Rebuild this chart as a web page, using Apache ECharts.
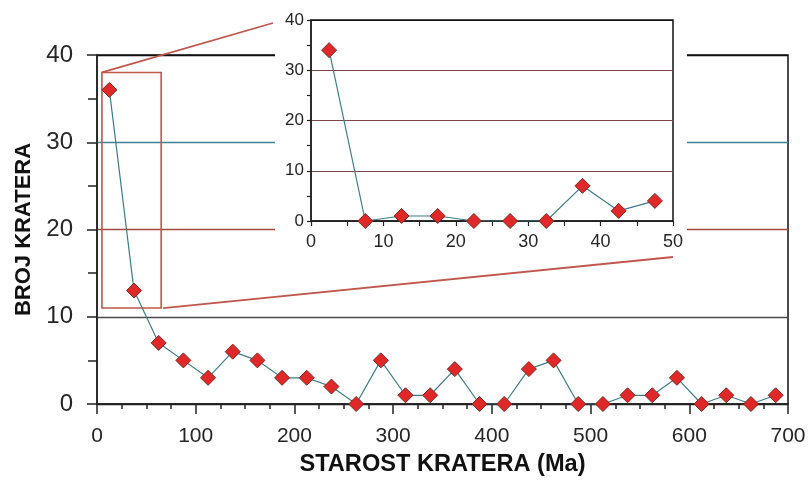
<!DOCTYPE html>
<html><head><meta charset="utf-8">
<script src="https://cdn.jsdelivr.net/npm/echarts@6/dist/echarts.min.js"></script>
<style>html,body{margin:0;padding:0;background:#fff}#c{width:811px;height:481px}</style>
</head><body><div id="c"></div>
<script>
// ---- data ----
const ages = [12.5,37.5,62.5,87.5,112.5,137.5,162.5,187.5,212.5,237.5,262.5,287.5,312.5,337.5,362.5,387.5,412.5,437.5,462.5,487.5,512.5,537.5,562.5,587.5,612.5,637.5,662.5,687.5];
const counts = [36,13,7,5,3,6,5,3,3,2,0,5,1,1,4,0,0,4,5,0,0,1,1,3,0,1,0,1];
const insetAges = [2.5,7.5,12.5,17.5,22.5,27.5,32.5,37.5,42.5,47.5];
const insetCounts = [34,0,1,1,0,0,0,7,2,4];
const zoomX = [5, 65];
const zoomY = [11, 38];
const xTitle = 'STAROST KRATERA (Ma)';
const yTitle = 'BROJ KRATERA';

// ---- layout / style ----
const FONT = 'Liberation Sans, Arial, Helvetica, sans-serif';
const INK = '#262626';
const RED = '#c0564c';
const inset = {left: 311, top: 20, right: 138, bottom: 260};
const markerStyle = {color: '#e02828', borderColor: '#7a2a22', borderWidth: 1};
const lineCol = '#3f7c88';

const chart = echarts.init(document.getElementById('c'), null, {renderer: 'canvas'});
const option = {
  animation: false,
  backgroundColor: '#fff',
  textStyle: {fontFamily: FONT},
  grid: [
    {left: 97, right: 23, top: 55, bottom: 77, show: true, borderColor: '#111', borderWidth: 1.5, backgroundColor: 'transparent', z: 0},
    {left: inset.left, right: inset.right, top: inset.top, bottom: inset.bottom, show: true, borderColor: '#111', borderWidth: 1.5, backgroundColor: '#fff', z: 3}
  ],
  xAxis: [
    {type: 'value', gridIndex: 0, min: 0, max: 700, interval: 100,
     name: xTitle, nameLocation: 'middle', nameGap: 48,
     nameTextStyle: {fontSize: 23.6, fontWeight: 'bold', color: '#111', fontFamily: FONT},
     axisLine: {lineStyle: {color: '#222', width: 1.5}},
     axisTick: {show: true, length: 10, lineStyle: {color: '#222', width: 1.5}},
     minorTick: {show: true, splitNumber: 4, length: 5, lineStyle: {color: '#222', width: 1.5}},
     axisLabel: {fontSize: 21, color: INK, margin: 22},
     splitLine: {show: false}},
    {type: 'value', gridIndex: 1, min: 0, max: 50, interval: 10, z: 3,
     axisLine: {lineStyle: {color: '#222', width: 1.5}},
     axisTick: {show: true, length: 5, lineStyle: {color: '#222', width: 1.2}},
     minorTick: {show: true, splitNumber: 2, length: 5, lineStyle: {color: '#222', width: 1.2}},
     axisLabel: {fontSize: 18, color: INK, margin: 12},
     splitLine: {show: false}}
  ],
  yAxis: [
    {type: 'value', gridIndex: 0, min: 0, max: 40, interval: 10,
     name: yTitle, nameLocation: 'middle', nameGap: 62, nameRotate: 90,
     nameTextStyle: {fontSize: 22, fontWeight: 'bold', color: '#111', fontFamily: FONT},
     axisLine: {show: true, lineStyle: {color: '#222', width: 1.5}},
     axisTick: {show: true, length: 10, lineStyle: {color: '#222', width: 1.5}},
     minorTick: {show: true, splitNumber: 2, length: 9, lineStyle: {color: '#222', width: 1.5}},
     axisLabel: {fontSize: 24, color: INK, margin: 24},
     splitLine: {show: true, lineStyle: {color: ['#222', '#4a4a4a', '#a8483c', '#3e8494', '#111'], width: 1.3}}},
    {type: 'value', gridIndex: 1, min: 0, max: 40, interval: 10, z: 3,
     axisLine: {show: true, lineStyle: {color: '#222', width: 1.5}},
     axisTick: {show: true, length: 4, lineStyle: {color: '#222', width: 1.2}},
     minorTick: {show: true, splitNumber: 2, length: 4, lineStyle: {color: '#222', width: 1.2}},
     axisLabel: {fontSize: 17, color: INK, margin: 7},
     splitLine: {show: true, lineStyle: {color: ['#222', '#7a4a48', '#7a4a48', '#7a4a48', '#111'], width: 1.2}}}
  ],
  series: [
    {type: 'line', xAxisIndex: 0, yAxisIndex: 0, z: 2,
     data: ages.map((a, i) => [a, counts[i]]),
     symbol: 'diamond', symbolSize: 15,
     lineStyle: {color: lineCol, width: 1.2},
     itemStyle: markerStyle,
     markArea: {silent: true, itemStyle: {color: 'rgba(0,0,0,0)', borderColor: RED, borderWidth: 1.6},
       data: [[{coord: [zoomX[0], zoomY[1]]}, {coord: [zoomX[1], zoomY[0]]}]]}},
    {type: 'line', xAxisIndex: 1, yAxisIndex: 1, z: 4,
     data: insetAges.map((a, i) => [a, insetCounts[i]]),
     symbol: 'diamond', symbolSize: 15,
     lineStyle: {color: lineCol, width: 1.2},
     itemStyle: markerStyle}
  ]
};
chart.setOption(option);

// white backing for inset and connector lines
const p1 = chart.convertToPixel({gridIndex: 0}, [zoomX[0], zoomY[1]]);
const p2 = chart.convertToPixel({gridIndex: 0}, [zoomX[1], zoomY[0]]);
const iTL = chart.convertToPixel({gridIndex: 1}, [0, 40]);
const iBR = chart.convertToPixel({gridIndex: 1}, [50, 0]);
chart.setOption({
  graphic: [
    {type: 'rect', z: 1, silent: true,
     shape: {x: iTL[0] - 36, y: 0, width: (iBR[0] - iTL[0]) + 50, height: iBR[1] + 31},
     style: {fill: '#fff'}},
    {type: 'line', z: 6, silent: true,
     shape: {x1: p1[0], y1: p1[1], x2: iTL[0] - 38, y2: iTL[1] + 3},
     style: {stroke: RED, lineWidth: 1.8}},
    {type: 'line', z: 6, silent: true,
     shape: {x1: p2[0] + 2, y1: p2[1], x2: iBR[0], y2: iBR[1] + 36},
     style: {stroke: RED, lineWidth: 1.8}}
  ]
});
</script>
</body></html>
